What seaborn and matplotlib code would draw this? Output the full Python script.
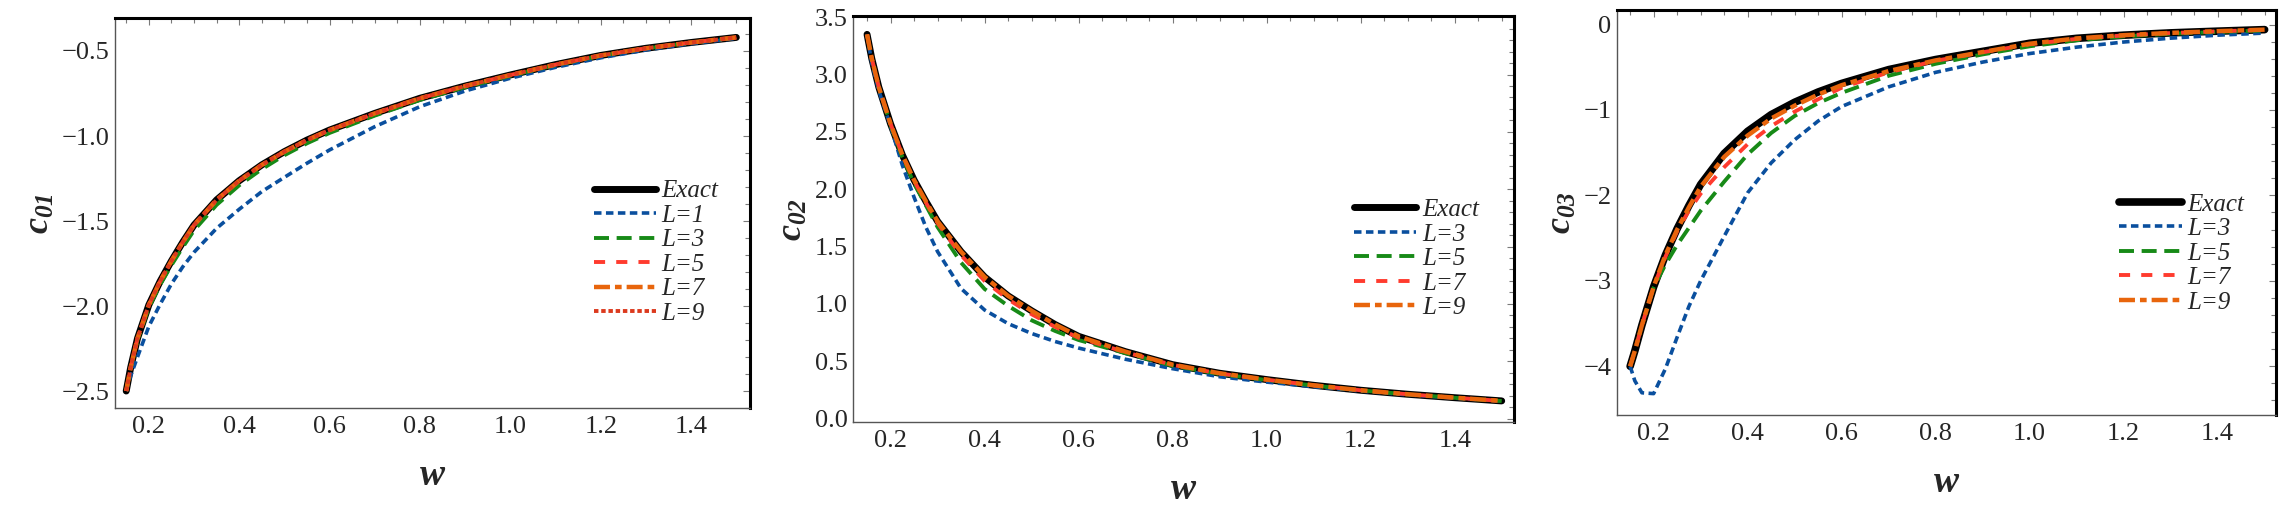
import matplotlib
matplotlib.use("Agg")
import matplotlib.pyplot as plt
import seaborn as sns
from matplotlib.ticker import MultipleLocator

# ---------------- data ----------------
w = [0.15, 0.16, 0.175, 0.2, 0.225, 0.25, 0.275, 0.3, 0.35, 0.4, 0.45, 0.5,
     0.55, 0.6, 0.7, 0.8, 0.9, 1.0, 1.1, 1.2, 1.3, 1.4, 1.5]

# panel 1 : c01
c01_exact = [-2.50, -2.36, -2.19, -1.994, -1.855, -1.735, -1.625, -1.524, -1.376, -1.263, -1.17, -1.092,
             -1.024, -0.965, -0.867, -0.778, -0.706, -0.641, -0.58, -0.526, -0.484, -0.45, -0.42]
c01_L1 = [-2.50, -2.41, -2.30, -2.12, -1.99, -1.87, -1.77, -1.684, -1.543, -1.431, -1.327, -1.243,
          -1.16, -1.082, -0.945, -0.827, -0.735, -0.66, -0.596, -0.54, -0.494, -0.457, -0.426]
c01_L3 = [-2.50, -2.365, -2.20, -2.01, -1.875, -1.76, -1.655, -1.555, -1.405, -1.29, -1.195, -1.113,
          -1.043, -0.982, -0.88, -0.788, -0.713, -0.646, -0.583, -0.528, -0.485, -0.451, -0.421]
c01_L5 = c01_exact
c01_L7 = c01_exact
c01_L9 = c01_exact

# panel 2 : c02
c02_exact = [3.35, 3.14, 2.89, 2.57, 2.30, 2.08, 1.895, 1.72, 1.455, 1.235, 1.07, 0.94,
             0.82, 0.717, 0.583, 0.47, 0.395, 0.34, 0.29, 0.247, 0.212, 0.182, 0.154]
c02_L3 = [3.35, 3.10, 2.86, 2.55, 2.21, 1.93, 1.67, 1.456, 1.134, 0.947, 0.828, 0.742,
          0.672, 0.615, 0.517, 0.435, 0.365, 0.318, 0.278, 0.24, 0.207, 0.178, 0.152]
c02_L5 = [3.35, 3.14, 2.89, 2.56, 2.28, 2.05, 1.86, 1.67, 1.36, 1.13, 0.983, 0.857,
          0.764, 0.685, 0.57, 0.46, 0.388, 0.336, 0.288, 0.246, 0.211, 0.181, 0.153]
c02_L7 = [3.35, 3.14, 2.89, 2.57, 2.30, 2.075, 1.885, 1.705, 1.425, 1.20, 1.04, 0.91,
          0.80, 0.705, 0.578, 0.468, 0.393, 0.339, 0.29, 0.247, 0.212, 0.182, 0.154]
c02_L9 = c02_exact

# panel 3 : c03
c03_exact = [-4.0, -3.82, -3.52, -3.07, -2.70, -2.39, -2.12, -1.872, -1.51, -1.25, -1.055, -0.91,
             -0.79, -0.69, -0.528, -0.41, -0.315, -0.22, -0.162, -0.125, -0.098, -0.078, -0.06]
c03_L3 = [-4.0, -4.17, -4.31, -4.32, -4.03, -3.66, -3.30, -3.0, -2.48, -1.97, -1.62, -1.35,
          -1.13, -0.96, -0.73, -0.56, -0.44, -0.34, -0.265, -0.205, -0.16, -0.125, -0.10]
c03_L5 = [-4.0, -3.82, -3.52, -3.08, -2.81, -2.58, -2.38, -2.18, -1.84, -1.52, -1.27, -1.07,
          -0.92, -0.80, -0.60, -0.46, -0.35, -0.255, -0.185, -0.14, -0.108, -0.087, -0.07]
c03_L7 = [-4.0, -3.82, -3.52, -3.07, -2.72, -2.42, -2.18, -1.98, -1.67, -1.40, -1.19, -1.02,
          -0.875, -0.74, -0.56, -0.425, -0.325, -0.232, -0.168, -0.128, -0.10, -0.08, -0.062]
c03_L9 = [-4.0, -3.82, -3.52, -3.07, -2.70, -2.40, -2.14, -1.90, -1.55, -1.30, -1.10, -0.95,
          -0.82, -0.71, -0.545, -0.42, -0.322, -0.225, -0.163, -0.125, -0.098, -0.078, -0.06]

labels_p1 = ["Exact", "L=1", "L=3", "L=5", "L=7", "L=9"]
labels_p23 = ["Exact", "L=3", "L=5", "L=7", "L=9"]

# ---------------- styles ----------------
sns.set_style("white")
plt.rcParams["font.family"] = ["Liberation Serif", "DejaVu Serif"]
plt.rcParams["mathtext.fontset"] = "custom"
plt.rcParams["mathtext.rm"] = "Liberation Serif"
plt.rcParams["mathtext.it"] = "Liberation Serif:italic"
plt.rcParams["mathtext.bf"] = "Liberation Serif:bold:italic"
plt.rcParams["lines.scale_dashes"] = False
plt.rcParams["axes.unicode_minus"] = True

BLACK = "#000000"
BLUE = "#0a4f9e"
GREEN = "#178a17"
RED = "#ff3b2e"
ORANGE = "#e8650c"
DOTRED = "#dc3a1e"

st_exact = dict(color=BLACK, lw=5.0, ls="-")
st_blue = dict(color=BLUE, lw=2.6, ls=(0, (5.4, 3.2)))
st_green = dict(color=GREEN, lw=2.8, ls=(0, (10.8, 5.5)))
st_red = dict(color=RED, lw=2.8, ls=(0, (8, 8)))
st_orange = dict(color=ORANGE, lw=3.2, ls=(0, (11.5, 3.6, 4.8, 3.6)))
st_dot = dict(color=DOTRED, lw=2.8, ls=(0, (3.2, 2.0)))

fig = plt.figure(figsize=(22.8, 5.09), dpi=100)
axes = [fig.add_axes([0.0504, 0.1984, 0.2785, 0.7662]),
        fig.add_axes([0.3741, 0.1709, 0.2899, 0.7976]),
        fig.add_axes([0.7092, 0.1847, 0.2890, 0.7957])]

panels = [
    (axes[0], [c01_exact, c01_L1, c01_L3, c01_L5, c01_L7, c01_L9], labels_p1,
     [st_exact, st_blue, st_green, st_red, st_orange, st_dot],
     (0.125, 1.53), (-2.6, -0.306), 0.5, 0.1, r"$\mathbf{c}_{\mathbf{01}}$", (0.754, 0.585)),
    (axes[1], [c02_exact, c02_L3, c02_L5, c02_L7, c02_L9], labels_p23,
     [st_exact, st_blue, st_green, st_red, st_orange],
     (0.12, 1.526), (-0.03, 3.51), 0.5, 0.1, r"$\mathbf{c}_{\mathbf{02}}$", (0.758, 0.55)),
    (axes[2], [c03_exact, c03_L3, c03_L5, c03_L7, c03_L9], labels_p23,
     [dict(st_exact, lw=5.5), st_blue, st_green, st_red, st_orange],
     (0.122, 1.524), (-4.57, 0.17), 1.0, 0.2, r"$\mathbf{c}_{\mathbf{03}}$", (0.762, 0.548)),
]

for ax, series, labels, styles, xl, yl, ymaj, ymin, ylab, legpos in panels:
    for i, (vals, lab, st) in enumerate(zip(series, labels, styles)):
        sns.lineplot(x=w, y=vals, ax=ax, label=lab, color=st["color"],
                     linewidth=st["lw"], linestyle=st["ls"], zorder=2 + i,
                     legend=False)
    ax.set_xlim(*xl)
    ax.set_ylim(*yl)
    ax.xaxis.set_major_locator(MultipleLocator(0.2))
    ax.xaxis.set_minor_locator(MultipleLocator(0.05))
    ax.yaxis.set_major_locator(MultipleLocator(ymaj))
    ax.yaxis.set_minor_locator(MultipleLocator(ymin))
    ax.tick_params(which="both", direction="in", top=True, right=True,
                   color="#7a7a7a", width=0.8, labelsize=19)
    ax.tick_params(which="major", length=5)
    ax.tick_params(which="minor", length=3.5)
    ax.tick_params(axis="x", pad=6)
    ax.tick_params(axis="y", pad=4)
    for s in ("left", "bottom"):
        ax.spines[s].set_color("#555555")
        ax.spines[s].set_linewidth(1.0)
    for s in ("top", "right"):
        ax.spines[s].set_color("#000000")
        ax.spines[s].set_linewidth(2.2)
    ax.set_xlabel("w", fontsize=27, fontstyle="italic", fontweight="bold", labelpad=14)
    ax.set_ylabel(ylab, fontsize=26, labelpad=3)
    leg = ax.legend(loc="upper left", bbox_to_anchor=legpos, frameon=False,
                    borderpad=0, borderaxespad=0, handlelength=2.5,
                    handletextpad=0.22, labelspacing=0.08,
                    prop={"family": "Liberation Serif", "style": "italic", "size": 18})

fig.savefig("out.png", dpi=100, facecolor="white")
